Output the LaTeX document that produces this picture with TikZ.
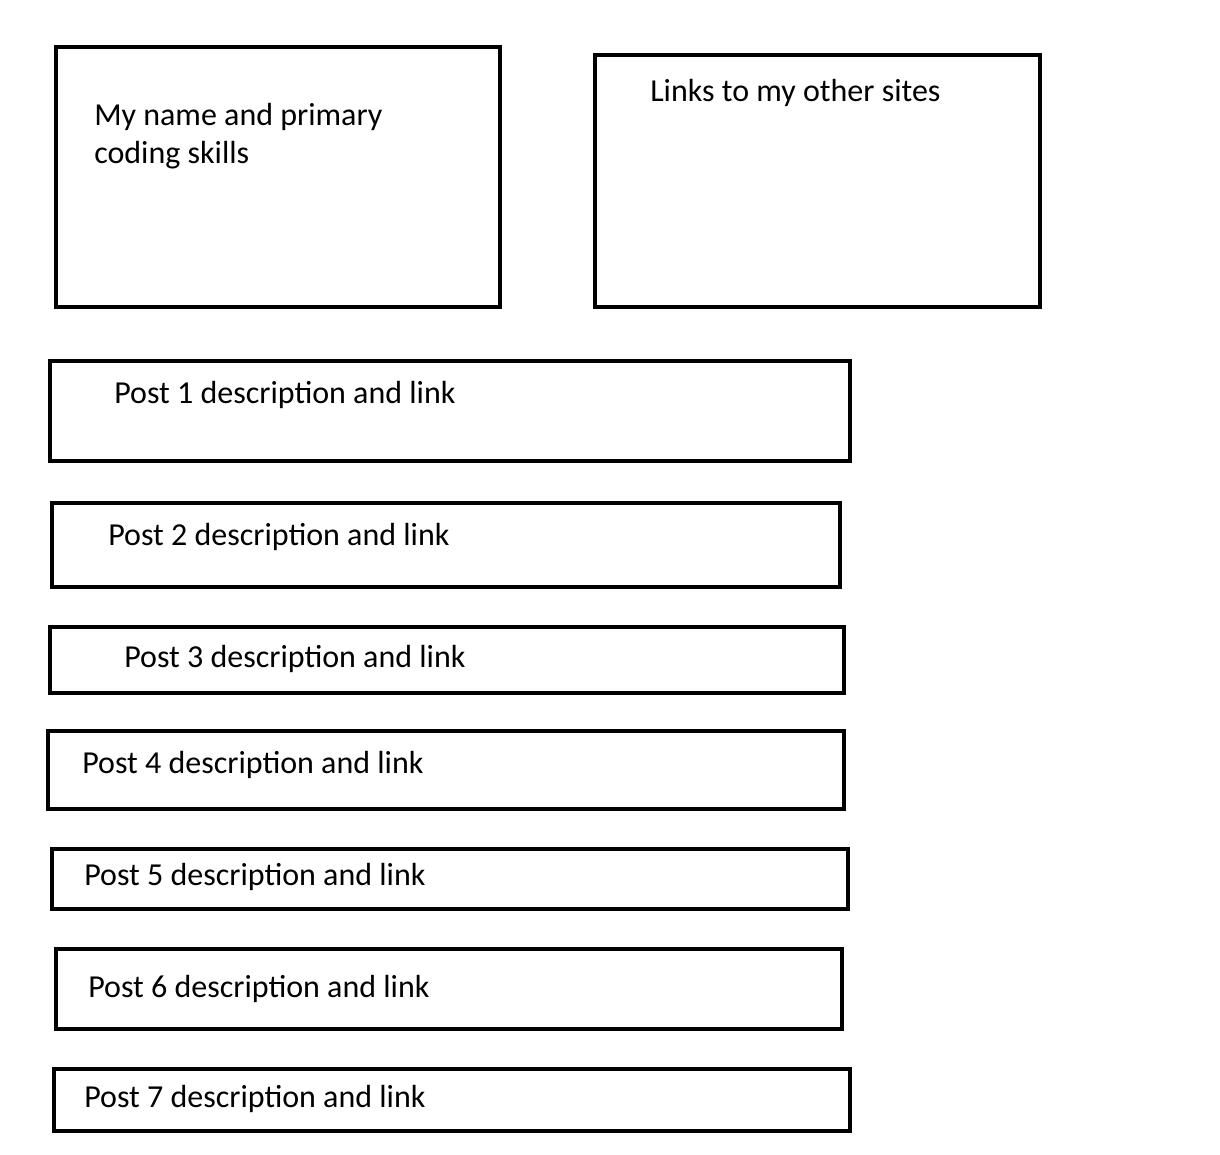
\documentclass[tikz,border=0pt]{standalone}
\usepackage{fontspec}
\setmainfont{Carlito}
\begin{document}
\begin{tikzpicture}[x=0.75pt,y=-0.75pt,
  box/.style={draw=black,line width=3pt},
  lbl/.style={anchor=base west,inner sep=0pt,font=\fontsize{24}{28.5}\selectfont,align=left}]
\useasboundingbox (0,0) rectangle (1220,1154);
\draw[box] (56,47) rectangle (500,307);
\draw[box] (595,55) rectangle (1040,307);
\draw[box] (50,361) rectangle (850,461);
\draw[box] (52,503) rectangle (840,587);
\draw[box] (50,627) rectangle (844,693);
\draw[box] (48,731) rectangle (844,809);
\draw[box] (52,849) rectangle (848,909);
\draw[box] (56,949) rectangle (842,1029);
\draw[box] (54,1069) rectangle (850,1131);
\node[lbl] (t0) at (94,163) {My name and primary\\coding skills};
\node[lbl] (t1) at (650,101) {Links to my other sites};
\node[lbl] (p1) at (114,403) {Post 1 description and link};
\node[lbl] (p2) at (108,545) {Post 2 description and link};
\node[lbl] (p3) at (124,667) {Post 3 description and link};
\node[lbl] (p4) at (82,773) {Post 4 description and link};
\node[lbl] (p5) at (84,885) {Post 5 description and link};
\node[lbl] (p6) at (88,997) {Post 6 description and link};
\node[lbl] (p7) at (84,1107) {Post 7 description and link};
\end{tikzpicture}
\end{document}
